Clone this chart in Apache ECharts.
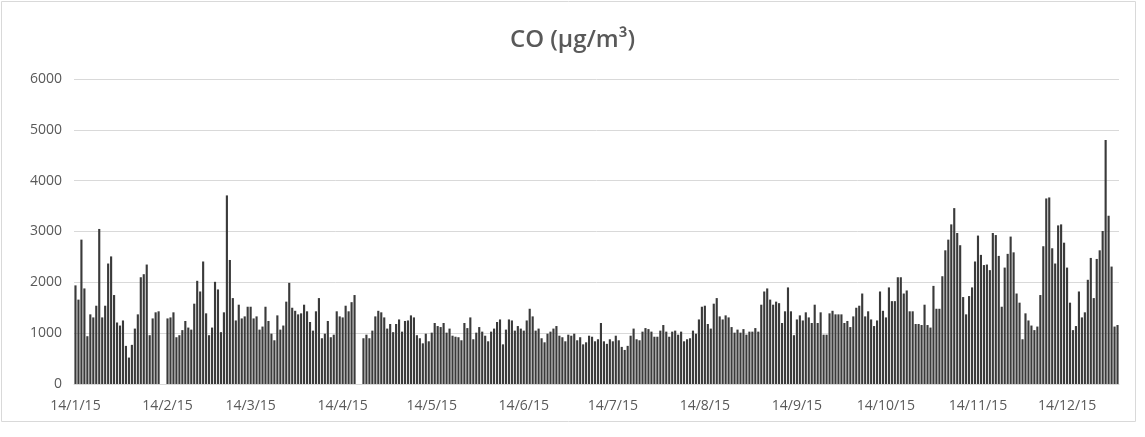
<!DOCTYPE html>
<html>
<head>
<meta charset="utf-8">
<script src="https://cdn.jsdelivr.net/npm/echarts@6/dist/echarts.min.js"></script>
<style>
  html, body { margin: 0; padding: 0; background: #fff; }
  #main { width: 1145px; height: 437px; }
</style>
</head>
<body>
<div id="main"></div>
<script>
// daily CO values, 14/1/15 .. 31/12/15 (null = no data)
const coJan = [1940, 1660, 2840, 1880, 940, 1370, 1310, 1540, 3050, 1310, 1540, 2370, 2510, 1750, 1210, 1150, 1250, 750];
const coFeb = [520, 770, 1090, 1370, 2100, 2160, 2350, 960, 1290, 1410, 1430, null, null,
  1290, 1310, 1410, 920, 960, 1060, 1240, 1110, 1070, 1580, 2030, 1820, 2410, 1390, 960];
const coMar = [1110, 2010, 1860, 1020, 1410, 3710, 2440, 1690, 1250, 1560, 1290, 1330, 1520,
  1520, 1290, 1330, 1070, 1130, 1520, 1240, 990, 860, 1350, 1070, 1150, 1620, 1990, 1500, 1440, 1370, 1390];
const coApr = [1560, 1430, 1220, 1050, 1430, 1690, 900, 990, 1240, 920, 970,
  1430, 1330, 1310, 1540, 1430, 1610, 1750, null, null,
  900, 970, 900, 1050, 1330, 1440, 1410, 1310, 1090, 1180];
const coMay = [1020, 1180, 1270, 1030, 1240, 1250, 1350, 1310, 960, 900, 800,
  990, 840, 1010, 1200, 1140, 1120, 1200, 1010, 1090, 950, 930, 920, 860, 1200, 1100, 1310, 880, 1010, 1120, 1030];
const coJun = [950, 840, 1030, 1090, 1220, 1270, 780, 1070, 1270, 1250,
  1050, 1140, 1090, 1050, 1250, 1480, 1330, 1050, 1090, 900, 820, 990, 1030, 1090, 1140, 950, 920, 840, 970, 950];
const coJul = [990, 860, 920, 780, 820, 950, 930, 840, 880,
  1200, 840, 790, 880, 840, 950, 860, 730, 670, 750, 950, 1090, 880, 860, 1030, 1100, 1080, 1030, 930, 930, 1050, 1160];
const coAug = [1030, 930, 1030, 1050, 970, 1030, 840, 880,
  900, 1050, 990, 1270, 1520, 1540, 1180, 1090, 1580, 1690, 1330, 1270, 1350, 1310, 1120, 1010, 1070, 1010, 1080, 970, 1030, 1030, 1100];
const coSep = [1030, 1560, 1820, 1880, 1660, 1560, 1620,
  1590, 1200, 1430, 1900, 1430, 960, 1270, 1350, 1250, 1410, 1310, 1200, 1560, 1200, 1410, 970, 970, 1390, 1440, 1370, 1370, 1370, 1200];
const coOct = [1240, 1120, 1330, 1500, 1540, 1780,
  1330, 1430, 1270, 1140, 1250, 1820, 1440, 1310, 1900, 1630, 1630, 2100, 2100, 1780, 1840, 1430, 1430, 1180, 1180, 1160, 1560, 1160, 1110, 1930, 1480];
const coNov = [1480, 2120, 2630, 2840, 3140,
  3460, 2970, 2730, 1710, 1370, 1730, 1900, 2410, 2920, 2540, 2340, 2350, 2240, 2970, 2930, 2520, 1520, 2290, 2560, 2900, 2590, 1780, 1600, 880, 1390];
const coDec = [1250, 1150, 1060, 1130, 1750,
  2710, 3650, 3670, 2670, 2370, 3120, 3140, 2780, 2290, 1600, 1060, 1140, 1820, 1310, 1410, 2050, 2480, 1690, 2460, 2630, 3010, 4800, 3310, 2310, 1130, 1160];

const yTicks = [0, 1000, 2000, 3000, 4000, 5000, 6000];

const values = [].concat(coJan, coFeb, coMar, coApr, coMay, coJun, coJul, coAug, coSep, coOct, coNov, coDec);

// category labels d/m/yy
const dates = [];
const start = new Date(2015, 0, 14);
for (let i = 0; i < values.length; i++) {
  const d = new Date(start.getFullYear(), start.getMonth(), start.getDate() + i);
  dates.push(d.getDate() + '/' + (d.getMonth() + 1) + '/' + String(d.getFullYear()).slice(2));
}
const isTick = (idx, val) => val.split('/')[0] === '14';

const chart = echarts.init(document.getElementById('main'));
chart.setOption({
  animation: false,
  graphic: [{
    type: 'rect',
    shape: { x: 1.5, y: 1.5, width: 1134, height: 420 },
    style: { fill: 'none', stroke: '#d9d9d9', lineWidth: 1 }
  }],
  title: {
    text: 'CO (µg/m³)',
    left: 'center',
    top: 23,
    textStyle: { fontFamily: 'Open Sans', fontSize: 24, fontWeight: 600, color: '#595959' }
  },
  grid: { left: 74, right: 26, top: 79, bottom: 53 },
  xAxis: {
    type: 'category',
    data: dates,
    boundaryGap: true,
    axisLine: { lineStyle: { color: '#d9d9d9', width: 1 } },
    axisTick: { interval: isTick, length: 5, lineStyle: { color: '#d9d9d9' } },
    axisLabel: {
      interval: isTick,
      color: '#595959',
      fontFamily: 'Open Sans',
      fontSize: 14,
      margin: 15
    },
    splitLine: { show: false }
  },
  yAxis: {
    type: 'value',
    min: yTicks[0],
    max: yTicks[yTicks.length - 1],
    interval: 1000,
    axisLine: { show: false },
    axisTick: { show: false },
    axisLabel: {
      color: '#595959', fontFamily: 'Open Sans', fontSize: 14, margin: 12,
      formatter: v => String(v)
    },
    splitLine: { lineStyle: { color: '#d9d9d9', width: 1 } }
  },
  series: [{
    type: 'bar',
    data: values,
    barCategoryGap: '28%',
    itemStyle: { color: '#3a3a3a' }
  }]
});
</script>
</body>
</html>
